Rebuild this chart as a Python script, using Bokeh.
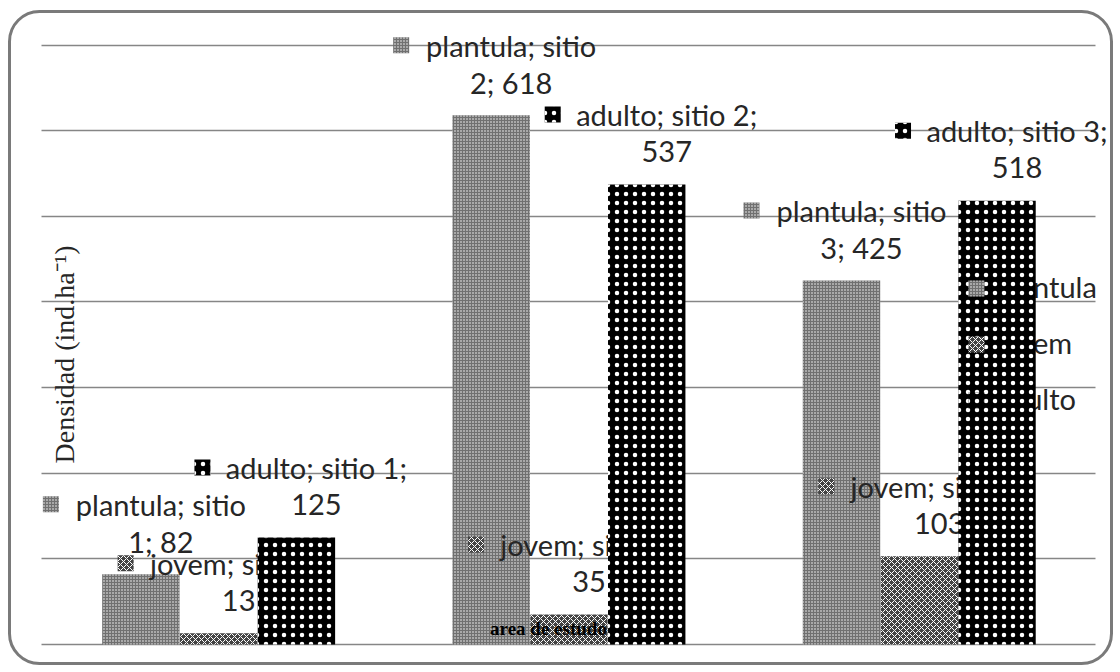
from math import pi
from bokeh.plotting import figure
from bokeh.models import (ColumnDataSource, Range1d, FixedTicker, Label, BoxAnnotation)
from bokeh.transform import dodge
from bokeh.core.properties import value
from bokeh.embed import file_html
from bokeh.resources import INLINE

# ---------------- data ----------------
sites = ["sitio 1", "sitio 2", "sitio 3"]
site_nums = ["1", "2", "3"]
stages = ["plantula", "jovem", "adulto"]
plantula = [82, 618, 425]
jovem = [13, 35, 103]
adulto = [125, 537, 518]
y_ticks = [0, 100, 200, 300, 400, 500, 600, 700]
y_title = "Densidad (ind.ha\u207b\u00b9)"
x_title = "area de estudo"

# ---------------- layout ----------------
W, H = 1120, 672
ML, MR, MT, MB = 6, 6, 8, 6          # frame covers the whole rounded box
CAT_PX = 350.3                       # pixels per category
X0_PX = 43.0                         # pixel where the categorical axis starts
Y0_PX = 644.0                        # pixel of value 0
PXY = 599.5 / 700                    # pixels per unit of density


def xd(px):
    return (px - X0_PX) / CAT_PX


def yd(py):
    return (Y0_PX - py) / PXY


LABEL_FONT = "Lato"
LABEL_SIZE = "29px"
TEXT_COLOR = "#262626"
BASE_FIX = 10

styles = {
    "plantula": dict(fill_color="#707070", hatch_pattern="dot", hatch_color="#ffffff",
                     hatch_scale=3, hatch_weight=1),
    "jovem": dict(fill_color="#444444", hatch_pattern="diagonal_cross", hatch_color="#ffffff",
                  hatch_scale=6, hatch_weight=1),
    "adulto": dict(fill_color="#000000", hatch_pattern="dot", hatch_color="#ffffff",
                   hatch_scale=9, hatch_weight=0.8),
}
offsets = {"plantula": -0.222, "jovem": 0.0, "adulto": 0.222}
marker_dx = {"plantula": -90, "jovem": -93, "adulto": -94}
LEG_TEXT_X = 995
LEG_MARK_X = 976
LEG_BASE_Y = [296, 352, 408]

p = figure(width=W, height=H,
           x_range=Range1d(xd(ML), xd(W - MR)),
           y_range=Range1d(yd(H - MB), yd(MT)),
           output_backend="svg", toolbar_location=None,
           min_border_left=ML, min_border_right=MR, min_border_top=MT, min_border_bottom=MB)
p.xaxis.visible = False
p.yaxis.visible = False
p.xgrid.visible = False
p.ygrid.ticker = FixedTicker(ticks=y_ticks)
p.ygrid.grid_line_color = "#868686"
p.ygrid.grid_line_width = 1.3
p.ygrid.cross_bounds = (xd(41), xd(1095))
p.outline_line_color = None
p.background_fill_color = "white"
p.border_fill_color = "white"

series = {"plantula": plantula, "jovem": jovem, "adulto": adulto}
site_x = [i + 0.5 for i in range(len(sites))]
sources = {}
for st in stages:
    vals = series[st]
    if st == "plantula":
        l1 = [f"{st}; sitio" for _ in vals]
        l2 = [f"{n}; {v}" for n, v in zip(site_nums, vals)]
    else:
        l1 = [f"{st}; sitio {n};" for n in site_nums]
        l2 = [f"{v}" for v in vals]
    sources[st] = ColumnDataSource(dict(site=sites, xc=site_x, value=vals, line1=l1, line2=l2,
                                        my=[v + 70 / PXY for v in vals]))


def bars(st):
    p.vbar(x=dodge("xc", offsets[st]), top="value", width=0.221,
           source=sources[st], line_color=None, **styles[st])


text_kw = dict(text_align="center", text_baseline="alphabetic",
               text_font=value(LABEL_FONT), text_font_size=value(LABEL_SIZE),
               text_color=TEXT_COLOR)

bars("plantula")
bars("jovem")

# data labels (text)
for st in stages:
    src = sources[st]
    for field, yoff in (("line1", -60 - BASE_FIX), ("line2", -23 - BASE_FIX)):
        p.text(x=dodge("xc", offsets[st]), y="value", text=field,
               source=src, x_offset=20, y_offset=yoff, **text_kw)

# legend text
p.text(x=[xd(LEG_TEXT_X)] * 3, y=[yd(v - BASE_FIX) for v in LEG_BASE_Y], text=stages,
       text_align="left", text_baseline="alphabetic", text_font=value(LABEL_FONT),
       text_font_size=value(LABEL_SIZE), text_color=TEXT_COLOR)

bars("adulto")

# markers of data labels and legend
for i, st in enumerate(stages):
    src = sources[st]
    p.scatter(x=dodge("xc", offsets[st] + marker_dx[st] / CAT_PX), y="my",
              source=src, marker="square", size=16, line_color=None, **styles[st])
    p.scatter(x=[xd(LEG_MARK_X)], y=[yd(LEG_BASE_Y[i] - 8)], marker="square", size=16,
              line_color=None, **styles[st])

p.add_layout(Label(x=xd(64), y=yd(354), text=y_title,
                   angle=pi / 2, text_align="center", text_baseline="middle",
                   text_font="Liberation Serif", text_font_size="28px", text_color=TEXT_COLOR))
p.add_layout(Label(x=xd(548), y=yd(628), text=x_title,
                   text_align="center", text_baseline="middle", text_font="Liberation Serif",
                   text_font_style="bold", text_font_size="19px", text_color="#000000"))

# rounded outer border of the chart area
p.add_layout(BoxAnnotation(left=xd(9), right=xd(1111), top=yd(11), bottom=yd(663),
                           fill_alpha=0, line_color="#7a7a7a", line_alpha=1.0, line_width=3,
                           border_radius=30))

open("out.html", "w").write(file_html(p, INLINE))
